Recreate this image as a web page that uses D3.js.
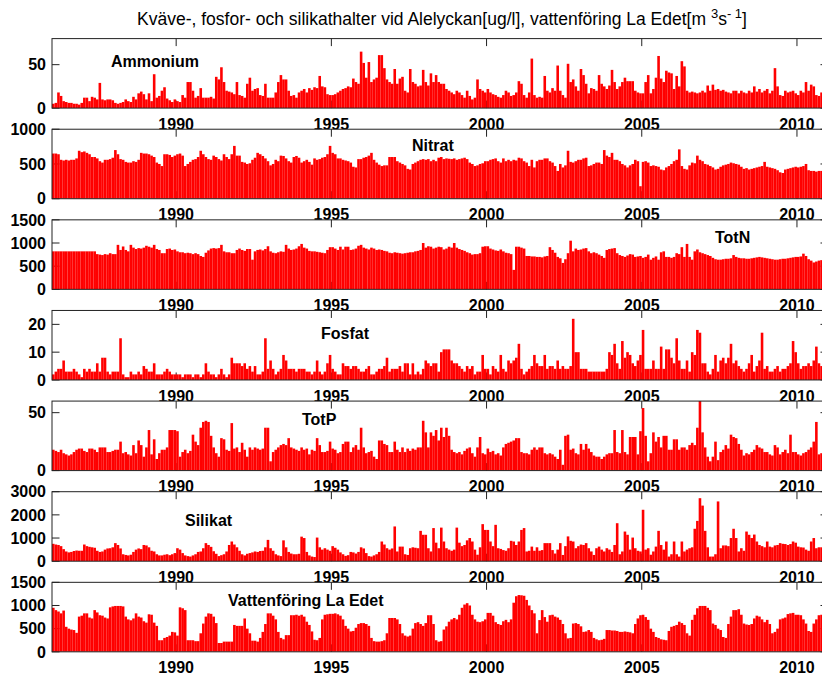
<!DOCTYPE html>
<html><head><meta charset="utf-8">
<script src="https://cdn.jsdelivr.net/npm/d3@7"></script>
<style>
body{margin:0;background:#fff}
svg{display:block}
text{font-family:"Liberation Sans",Arial,Helvetica,sans-serif}
</style>
</head><body>
<svg id="c" width="822" height="677"></svg>
<script>
// ---------- data (monthly values, Jan 1986 - Dec 2010) ----------
const startYear = 1986;
const xTickYears = [1990, 1995, 2000, 2005, 2010];
const seriesNames = ["Ammonium", "Nitrat", "TotN", "Fosfat", "TotP", "Silikat", "Vattenföring La Edet"];
const yMax = [80, 1000, 1500, 25, 60, 3000, 1500];
const yTicks = [[0,50],[0,500,1000],[0,500,1000,1500],[0,10,20],[0,50],[0,1000,2000,3000],[0,500,1000,1500]];

const ammonium = [
5,6,18,14,8,7,6,6,5,5,4,6,
12,12,8,13,12,10,29,10,9,10,10,9,
6,5,6,7,10,8,7,13,10,17,19,16,
10,17,8,39,12,14,20,24,11,9,7,10,
8,7,15,12,30,30,20,12,14,23,12,12,
12,13,11,36,33,47,30,20,19,18,16,30,
15,14,12,28,35,20,22,23,15,14,28,12,
12,12,18,30,38,33,33,20,14,15,12,18,
20,22,18,23,21,24,23,37,25,24,16,15,
15,16,18,20,22,23,25,24,34,30,28,65,
52,35,53,30,33,35,61,61,46,33,30,28,
45,28,34,36,20,18,45,30,28,25,26,44,
30,26,40,30,38,30,28,28,22,20,18,16,
20,18,15,12,20,14,10,12,33,22,20,18,
22,18,16,15,13,12,15,20,18,14,15,18,
31,28,15,12,18,57,15,12,13,12,37,20,
18,23,20,49,20,15,12,51,30,33,25,20,
45,38,28,17,23,22,20,38,28,25,22,26,
44,30,22,25,30,35,31,31,31,20,18,17,
17,30,38,17,22,35,60,34,30,43,41,40,
22,37,25,54,48,20,18,19,18,17,18,20,
18,26,20,27,21,22,20,21,19,18,17,20,
20,17,20,18,17,20,18,25,19,22,18,20,
22,17,20,46,25,15,14,20,18,19,20,17,
15,20,18,30,20,27,25,15,14,18,16,15];

const nitrat = [
650,650,640,560,550,560,550,560,560,580,690,670,
680,660,640,600,600,580,540,520,560,560,570,590,
700,640,570,560,530,520,520,540,530,560,660,650,
650,640,620,600,520,500,470,640,640,630,600,620,
640,650,620,470,500,530,560,570,600,690,640,600,
570,560,620,600,570,550,640,600,570,640,760,620,
620,530,520,500,510,560,590,660,640,615,580,540,
480,500,560,540,620,615,580,540,520,600,615,590,
520,540,560,530,490,580,560,570,590,600,640,760,
660,640,580,580,560,550,540,520,460,450,570,570,
590,600,620,660,560,520,490,470,480,480,600,600,
600,540,520,500,480,430,420,500,520,540,560,570,
560,570,540,560,540,590,600,570,580,575,570,580,
560,570,580,590,570,520,500,470,480,500,510,540,
540,560,570,580,540,520,580,540,560,540,560,550,
590,580,540,520,470,560,450,540,560,560,580,580,
540,520,470,400,500,450,480,690,530,520,540,560,
560,580,590,470,480,500,520,520,500,700,620,600,
660,560,560,540,500,480,450,480,500,560,540,180,
530,540,520,470,480,470,460,420,410,450,470,500,
540,560,710,470,430,420,480,520,510,620,560,540,
500,490,470,450,420,430,460,480,490,500,520,510,
500,490,460,430,440,420,430,440,450,460,470,530,
460,450,440,430,410,380,370,420,430,440,450,460,
450,460,470,500,410,400,400,390,400,400,390,390];

const totN = [
820,820,820,820,820,820,820,820,820,820,820,820,
820,820,820,820,820,760,750,740,760,750,780,760,
760,960,850,925,850,820,960,900,870,890,880,900,
940,920,900,960,870,850,780,780,870,880,850,860,
820,800,800,780,790,780,760,780,760,720,700,790,
840,880,890,880,890,960,820,800,800,780,780,850,
880,850,830,870,870,640,820,850,860,840,870,930,
820,790,780,800,820,810,960,880,850,860,880,930,
980,900,880,830,820,820,810,800,790,780,850,910,
910,880,850,920,860,920,920,850,860,880,940,960,
900,880,860,900,880,850,860,850,830,820,790,780,
800,790,780,770,780,790,800,800,820,830,850,1000,
900,930,920,880,900,920,910,860,880,920,900,1000,
900,870,850,830,800,780,750,760,760,780,920,930,
930,880,860,840,830,860,820,790,780,760,420,920,
920,900,880,720,720,710,710,700,700,690,710,720,
910,850,790,700,670,570,650,780,1050,820,880,850,
860,880,890,820,780,800,780,750,720,680,850,870,
880,890,780,740,720,700,730,760,750,700,710,720,
680,700,750,640,680,710,640,800,820,700,700,680,
700,780,760,910,700,980,700,640,820,860,800,780,
760,740,720,680,650,640,640,650,660,660,670,740,
700,680,670,670,660,660,670,680,690,700,690,680,
670,660,650,640,640,650,660,660,670,680,690,700,
700,710,770,720,650,620,580,600,620,630,640,640];

const fosfat = [
2,3,4,4,7,3,3,3,4,3,2,1,
4,3,4,3,3,6,3,8,8,3,2,3,
3,3,15,2,1,1,3,2,2,3,2,5,
4,3,3,6,2,2,2,3,4,3,2,2,
2,2,1,2,2,2,1,2,2,1,2,6,
3,2,2,1,2,4,2,1,2,8,6,6,
6,5,6,4,5,3,5,2,2,3,15,4,
7,4,2,3,4,9,7,4,4,4,3,4,
4,4,3,3,2,3,7,3,2,3,6,9,
4,3,2,2,6,5,5,4,5,5,4,3,
3,4,5,2,2,3,4,4,5,8,3,4,
4,4,5,3,6,6,2,6,2,3,2,4,
7,6,5,6,6,3,10,11,11,11,7,6,
6,5,4,3,5,4,5,2,3,3,9,4,
4,2,5,4,3,9,4,3,7,6,7,8,
13,4,2,3,4,5,9,6,5,5,9,4,
5,5,4,7,4,5,4,4,5,22,10,10,
4,4,4,3,3,3,3,3,3,3,4,10,
9,13,6,4,14,8,10,9,6,5,7,9,
18,4,4,4,7,4,4,12,4,11,11,8,
6,15,7,4,4,7,3,10,9,18,17,6,
6,3,2,4,9,3,7,8,6,8,13,6,
7,5,4,3,4,6,9,3,5,7,17,4,
5,3,3,4,5,3,4,4,5,6,14,10,
6,4,5,5,6,5,7,12,6,5,6,6];

const totP = [
18,17,16,18,15,14,13,14,16,18,19,19,
17,16,19,19,18,16,20,20,20,16,16,17,
18,18,25,15,16,14,13,22,15,26,22,12,
20,35,14,27,10,15,18,18,20,35,35,35,
34,12,16,18,15,17,31,25,22,37,42,43,
42,30,20,15,12,28,27,18,17,41,19,20,
16,24,18,12,20,18,20,19,18,19,37,37,
8,16,18,20,22,23,22,28,20,19,18,17,
20,18,19,14,18,17,28,22,16,16,17,25,
19,18,15,16,23,25,25,16,20,22,18,37,
20,15,16,17,12,10,26,26,23,22,16,16,
25,18,16,20,16,19,17,19,18,20,20,43,
33,20,33,30,35,26,37,29,37,30,18,16,
15,16,14,17,19,20,15,12,20,29,15,14,
19,16,17,14,15,13,20,23,24,25,26,28,
28,16,15,15,14,18,20,18,20,20,15,14,
15,14,12,10,18,5,30,31,18,19,15,14,
23,18,23,19,16,13,12,12,10,12,14,15,
15,35,16,15,35,16,14,29,29,29,14,34,
54,30,8,15,33,25,29,20,30,30,18,18,
27,27,18,20,20,18,22,24,22,37,60,33,
20,12,8,12,25,9,16,18,22,19,31,29,
28,23,18,13,15,14,16,18,22,20,19,16,
16,14,13,22,20,14,16,18,15,31,16,16,
14,13,15,16,18,20,25,42,14,15,15,15];

const silikat = [
750,720,700,650,520,420,380,400,440,460,450,450,
720,650,620,600,580,450,400,420,500,550,560,600,
780,700,550,300,270,250,280,400,500,550,520,700,
680,600,450,420,300,250,250,280,300,260,300,350,
560,500,350,250,220,200,250,300,400,420,560,780,
700,620,430,320,220,260,300,420,700,850,720,600,
450,300,250,320,350,380,420,400,440,450,600,920,
560,450,300,250,220,900,600,400,330,300,300,320,
1060,1000,400,250,200,180,1020,600,500,560,500,450,
650,580,500,380,300,230,260,400,380,330,400,600,
550,350,220,200,250,300,400,850,720,560,500,550,
1500,420,630,630,300,270,560,600,580,560,1310,1140,
1140,560,420,1430,800,560,1450,850,560,500,450,500,
1450,800,650,700,900,1000,850,500,280,600,1600,1350,
1350,850,650,1570,560,530,480,450,560,880,850,700,
850,1350,1430,420,450,630,450,600,450,480,780,780,
780,480,330,500,780,270,650,1070,880,850,560,650,
720,700,780,560,420,270,560,630,500,420,560,500,
400,700,1640,300,420,1280,1140,500,1020,560,450,420,
2220,500,560,280,420,630,1310,700,500,850,200,300,
850,300,200,850,420,500,560,600,1400,1740,2720,2400,
1310,600,200,200,300,2580,560,680,680,650,1000,1400,
1000,420,560,450,1280,1140,1000,1150,850,700,650,600,
850,630,600,680,700,780,750,740,700,740,850,800,
630,600,590,500,450,850,1000,560,600,600,600,600];

const vattenforing = [
950,900,870,830,890,540,500,480,470,410,760,780,
830,830,740,720,900,850,790,780,740,720,960,980,
990,990,990,980,760,700,680,720,830,760,740,660,
630,810,800,630,560,250,250,300,320,350,430,420,
350,960,940,900,250,250,250,230,230,400,610,760,
830,820,760,620,190,190,220,220,220,220,580,560,
560,560,720,500,400,240,240,220,300,430,600,830,
830,780,700,430,300,270,360,360,790,790,800,780,
800,760,650,580,440,260,250,300,700,800,810,820,
820,830,810,780,700,560,500,440,450,520,600,620,
620,600,560,300,230,220,220,230,250,400,730,730,
730,700,600,400,350,330,350,500,620,640,600,560,
620,790,790,600,250,220,230,480,550,650,700,730,
700,800,950,1020,1050,1000,800,700,650,640,660,700,
840,840,780,640,600,580,660,690,640,700,1060,1200,
1225,1220,1210,1120,1000,900,830,400,685,900,750,650,
790,800,760,740,690,600,400,290,300,610,620,600,
550,430,440,470,430,300,270,250,260,280,470,470,
460,460,450,430,430,440,430,420,400,600,720,790,
800,750,690,500,430,320,300,270,260,250,450,540,
560,580,650,620,580,400,350,690,800,940,990,990,
990,950,900,610,580,500,470,320,300,600,760,900,
900,920,800,610,590,580,600,720,780,760,700,640,
690,600,400,430,500,700,720,740,815,830,840,800,
800,790,700,610,450,430,610,700,790,800,810,820];

const seriesData = [ammonium, nitrat, totN, fosfat, totP, silikat, vattenforing];

// ---------- layout ----------
const svg = d3.select("#c");
const left = 52, right = 828;
const firstTop = 38.6, panelStep = 90.62, panelH = 69.5;
const labelPos = [[111,67.5-38.6],[412,151-129.2],[715,242.7-219.8],[321,338.7-310.5],[302,425.3-401.1],[185,526.3-491.7],[228,606-582.3]];
const x = d3.scaleLinear().domain([startYear, 2011]).range([left, right]);
const step = x(startYear + 1/12) - x(startYear);
const tickLen = 7.5;

// title
const title = svg.append("text")
  .attr("x", 442).attr("y", 25)
  .attr("text-anchor", "middle")
  .style("font-size", "17.5px")
  .attr("fill", "#000");
title.append("tspan").text("Kväve-, fosfor- och silikathalter vid Alelyckan[ug/l], vattenföring La Edet[m ");
title.append("tspan").attr("dy", -7).style("font-size", "13px").text("3");
title.append("tspan").attr("dy", 7).text("s");
title.append("tspan").attr("dy", -7).style("font-size", "13px").text("- 1");
title.append("tspan").attr("dy", 7).text("]");

seriesData.forEach((data, k) => {
  const top = firstTop + k * panelStep;
  const g = svg.append("g").attr("transform", `translate(0,${top})`);
  const y = d3.scaleLinear().domain([0, yMax[k]]).range([panelH, 0]);

  g.append("rect").attr("x", left).attr("y", 0)
    .attr("width", right - left).attr("height", panelH).attr("fill", "#fff");

  const clipId = "clip" + k;
  g.append("clipPath").attr("id", clipId).append("rect")
    .attr("x", left).attr("y", 0).attr("width", right - left).attr("height", panelH);

  // ticks (under data)
  const tg = g.append("g").attr("stroke", "#222").attr("stroke-width", 1);
  xTickYears.forEach(yr => {
    const xx = x(yr);
    tg.append("line").attr("x1", xx).attr("x2", xx).attr("y1", 0).attr("y2", tickLen);
    tg.append("line").attr("x1", xx).attr("x2", xx).attr("y1", panelH).attr("y2", panelH - tickLen);
  });
  yTicks[k].forEach(v => {
    const yy = y(v);
    tg.append("line").attr("x1", left).attr("x2", left + tickLen).attr("y1", yy).attr("y2", yy);
    tg.append("line").attr("x1", right).attr("x2", right - tickLen).attr("y1", yy).attr("y2", yy);
  });

  // bars
  g.append("g").attr("clip-path", `url(#${clipId})`)
    .selectAll("rect").data(data).enter().append("rect")
    .attr("x", (d, i) => x(startYear + i / 12))
    .attr("width", step)
    .attr("y", d => y(d))
    .attr("height", d => panelH - y(d))
    .attr("fill", "#ff0000");

  // frame
  g.append("rect").attr("x", left).attr("y", 0)
    .attr("width", right - left).attr("height", panelH)
    .attr("fill", "none").attr("stroke", "#222").attr("stroke-width", 1);

  // x tick labels
  g.append("g").selectAll("text").data(xTickYears).enter().append("text")
    .attr("x", d => x(d)).attr("y", panelH + 21.6)
    .attr("text-anchor", "middle")
    .style("font-size", "16px").style("font-weight", "bold")
    .text(d => d);

  // y tick labels
  g.append("g").selectAll("text").data(yTicks[k]).enter().append("text")
    .attr("x", 46).attr("y", d => y(d)).attr("dy", "0.36em")
    .attr("text-anchor", "end")
    .style("font-size", "16px").style("font-weight", "bold")
    .text(d => d);

  // series label
  g.append("text")
    .attr("x", labelPos[k][0]).attr("y", labelPos[k][1])
    .style("font-size", "16px").style("font-weight", "bold")
    .text(seriesNames[k]);
});
</script>
</body></html>
